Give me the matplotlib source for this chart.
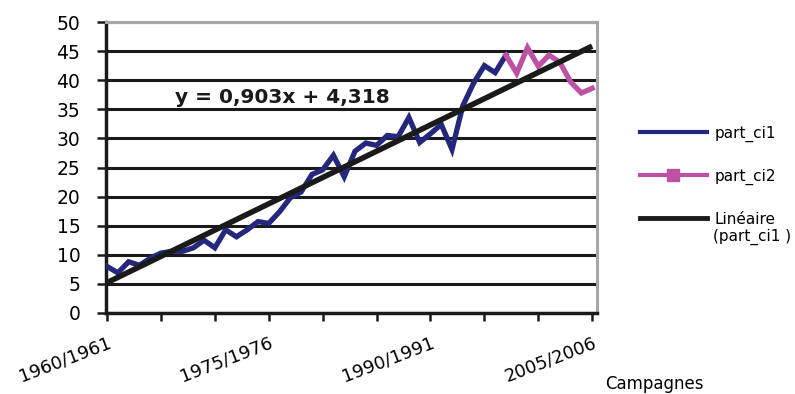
import numpy as np
import matplotlib
matplotlib.use("Agg")
import matplotlib.pyplot as plt
from matplotlib.lines import Line2D
from matplotlib.transforms import ScaledTranslation

# Campagnes 1960/1961 .. 2005/2006
annees = list(range(1960, 2006))
campagnes = [f"{a}/{a + 1}" for a in annees]

# part_ci1 : 1960/1961 -> 1997/1998
part_ci1 = [8.0, 6.9, 8.8, 8.2, 9.4, 10.3, 10.6, 10.6, 11.2, 12.5,
            11.2, 14.3, 13.1, 14.3, 15.7, 15.4, 17.4, 19.8, 20.8, 23.8,
            24.6, 27.1, 23.4, 27.8, 29.2, 28.8, 30.5, 30.3, 33.6, 29.3,
            30.8, 32.4, 28.1, 35.6, 39.5, 42.5, 41.3, 44.3]
# part_ci2 : 1997/1998 -> 2005/2006
part_ci2 = [44.3, 41.2, 45.6, 42.4, 44.3, 43.1, 39.7, 37.8, 38.6]
debut_ci2 = 37

# tendance lineaire (part_ci1)
pente = 0.903
ordonnee = 4.318

labels_x = ["1960/1961", "1975/1976", "1990/1991", "2005/2006"]

bleu = "#25277d"
rose = "#bd52a4"
noir = "#1a1a1a"

fig = plt.figure(figsize=(7.95, 3.94), dpi=100)
ax = fig.add_axes([106 / 795, 1 - 313 / 394, (597 - 106) / 795, (313 - 22) / 394])

x1 = np.arange(len(part_ci1))
x2 = np.arange(debut_ci2, debut_ci2 + len(part_ci2))
xt = np.arange(len(campagnes))

ax.plot(x1, part_ci1, color=bleu, lw=3.8, solid_joinstyle="miter", zorder=3)
ax.plot(x2, part_ci2, color=rose, lw=3.8, solid_joinstyle="miter", zorder=3)
ax.plot(xt, pente * (xt + 1) + ordonnee, color=noir, lw=4.0, zorder=4,
        solid_capstyle="butt")

ax.set_xlim(-0.1, 45.45)
ax.set_ylim(0, 50)
ax.set_yticks(np.arange(0, 51, 5))
ax.yaxis.grid(True, color=noir, lw=2.2)
ax.set_axisbelow(True)

ax.set_xticks(np.arange(0, 46, 5))
ax.set_xticklabels([campagnes[i] if campagnes[i] in labels_x else "" for i in range(0, 46, 5)],
                   rotation=21, ha="right", va="top", rotation_mode="anchor", fontsize=13)
off = ScaledTranslation(3 / 100, 0, fig.dpi_scale_trans)
for lab in ax.get_xticklabels():
    lab.set_transform(lab.get_transform() + off)

ax.tick_params(axis="y", length=6.5, width=1.8, direction="out", pad=12, labelsize=13.5, color=noir)
ax.tick_params(axis="x", length=6, width=1.8, direction="out", pad=9, color=noir)

for s in ["left", "bottom"]:
    ax.spines[s].set_color(noir)
    ax.spines[s].set_linewidth(2.5)
for s in ["top", "right"]:
    ax.spines[s].set_color("#a6a6a6")
    ax.spines[s].set_linewidth(2.2)

ax.text(16.3, 37.0, "y = 0,903x + 4,318", fontsize=14.5, fontweight="bold",
        ha="center", va="center", color=noir, zorder=5)

handles = [Line2D([], [], color=bleu, lw=3),
           Line2D([], [], color=rose, lw=3, marker="s", ms=8),
           Line2D([], [], color=noir, lw=3.5)]
fig.legend(handles, ["part_ci1", "part_ci2", "Linéaire"],
           loc="upper left", bbox_to_anchor=(626 / 795, 1 - 112 / 394),
           frameon=False, fontsize=11, handlelength=4.4, handletextpad=0.5,
           labelspacing=1.75, numpoints=1)
fig.text(713 / 795, 1 - 237 / 394, "(part_ci1 )", fontsize=11, ha="left", va="center")

fig.text(605 / 795, 1 - 389 / 394, "Campagnes", fontsize=12, ha="left", va="baseline")

fig.savefig("out.png", dpi=100)
